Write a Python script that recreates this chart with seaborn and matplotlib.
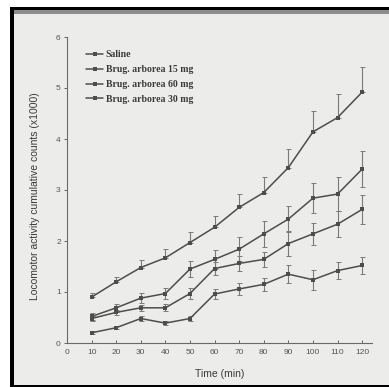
import numpy as np
import pandas as pd
import matplotlib
matplotlib.use("Agg")
import matplotlib.pyplot as plt
import seaborn as sns
from matplotlib.patches import Rectangle

# Time points (min)
time_min = [10, 20, 30, 40, 50, 60, 70, 80, 90, 100, 110, 120]

# Cumulative locomotor counts (x1000) per treatment group
saline = [0.90, 1.20, 1.48, 1.67, 1.97, 2.27, 2.66, 2.95, 3.44, 4.14, 4.42, 4.92]
brug_15 = [0.52, 0.69, 0.88, 0.97, 1.45, 1.64, 1.84, 2.14, 2.43, 2.84, 2.92, 3.41]
brug_60 = [0.48, 0.60, 0.69, 0.69, 0.97, 1.46, 1.56, 1.64, 1.95, 2.14, 2.33, 2.62]
brug_30 = [0.20, 0.30, 0.48, 0.39, 0.48, 0.96, 1.06, 1.15, 1.35, 1.24, 1.42, 1.52]

# Standard errors
saline_err = [0.09, 0.10, 0.15, 0.18, 0.21, 0.23, 0.27, 0.31, 0.36, 0.41, 0.46, 0.50]
brug_15_err = [0.06, 0.08, 0.10, 0.11, 0.16, 0.18, 0.23, 0.25, 0.26, 0.29, 0.33, 0.36]
brug_60_err = [0.04, 0.05, 0.06, 0.07, 0.10, 0.13, 0.15, 0.15, 0.25, 0.22, 0.25, 0.28]
brug_30_err = [0.03, 0.03, 0.04, 0.04, 0.05, 0.10, 0.12, 0.13, 0.18, 0.20, 0.17, 0.16]

labels = ["Saline", "Brug. arborea 15 mg", "Brug. arborea 60 mg", "Brug. arborea 30 mg"]
series = [saline, brug_15, brug_60, brug_30]
errors = [saline_err, brug_15_err, brug_60_err, brug_30_err]

x_ticks = list(range(0, 130, 10))
y_ticks = [0, 1, 2, 3, 4, 5, 6]

df = pd.DataFrame({
    "Time": np.tile(time_min, len(labels)),
    "Counts": np.concatenate(series),
    "Group": np.repeat(labels, len(time_min)),
})

sns.set_style("ticks")
plt.rcParams["font.family"] = ["Liberation Sans", "DejaVu Sans"]

paper = "#ececea"
line_c = "#4d4d4d"
err_c = "#7a7a7a"

fig = plt.figure(figsize=(3.89, 3.87), dpi=100, facecolor="white")
# paper area and scan frame
fig.patches.append(Rectangle((12 / 389, 0), 1, 1 - 10 / 387, transform=fig.transFigure,
                             facecolor=paper, edgecolor="none", zorder=-10))
fig.patches.append(Rectangle((10 / 389, 1 - 10 / 387), 1, 3 / 387, transform=fig.transFigure,
                             facecolor="black", edgecolor="none", zorder=-5))
fig.patches.append(Rectangle((10 / 389, 1 - 14 / 387), 1, 4 / 387, transform=fig.transFigure,
                             facecolor="#8c8c8c", edgecolor="none", zorder=-5))
fig.patches.append(Rectangle((10 / 389, 0), 4 / 389, 1 - 7 / 387, transform=fig.transFigure,
                             facecolor="black", edgecolor="none", zorder=-5))
fig.patches.append(Rectangle((10 / 389, 0), 1, 2.5 / 387, transform=fig.transFigure,
                             facecolor="black", edgecolor="none", zorder=-5))

ax = fig.add_axes([67 / 389, 44 / 387, (372 - 67) / 389, (343 - 37) / 387])
ax.set_facecolor("none")

sns.lineplot(data=df, x="Time", y="Counts", hue="Group", hue_order=labels,
             palette=[line_c] * 4, marker="s", markersize=3, markeredgewidth=0,
             linewidth=1.1, ax=ax, legend=True)

# error bars: saline upward only, other groups symmetric
for i, (vals, err) in enumerate(zip(series, errors)):
    err = np.array(err)
    yerr = [np.zeros_like(err), err] if i == 0 else err
    ax.errorbar(time_min, vals, yerr=yerr, fmt="none", ecolor=err_c,
                elinewidth=0.8, capsize=1.8, capthick=0.7, zorder=1)

ax.set_xlim(0, 124)
ax.set_ylim(0, 6)
ax.set_xticks(x_ticks)
ax.set_yticks(y_ticks)
ax.tick_params(axis="both", labelsize=6, colors="#666666", length=2.5, width=0.7,
               labelcolor="#555555", pad=2)
ax.tick_params(axis="x", direction="in", pad=4)
for s in ["top", "right"]:
    ax.spines[s].set_visible(False)
for s in ["left", "bottom"]:
    ax.spines[s].set_color("#6a6a6a")
    ax.spines[s].set_linewidth(0.8)

ax.set_xlabel("Time (min)", fontsize=7.5, color="#3a3a3a")
ax.set_ylabel("Locomotor activity cumulative counts (x1000)", fontsize=7.5, color="#3a3a3a")
ax.xaxis.set_label_coords(0.5, -0.085)
ax.yaxis.set_label_coords(-0.09, 0.48)

leg = ax.legend(loc="upper left", bbox_to_anchor=(0.035, 0.985), frameon=False,
                prop={"family": ["Liberation Serif"], "weight": "bold", "size": 7},
                handlelength=1.7, labelspacing=0.6, handletextpad=0.3)
for t in leg.get_texts():
    t.set_color("#3a3a3a")

fig.savefig("out.png", dpi=100, facecolor="white")
